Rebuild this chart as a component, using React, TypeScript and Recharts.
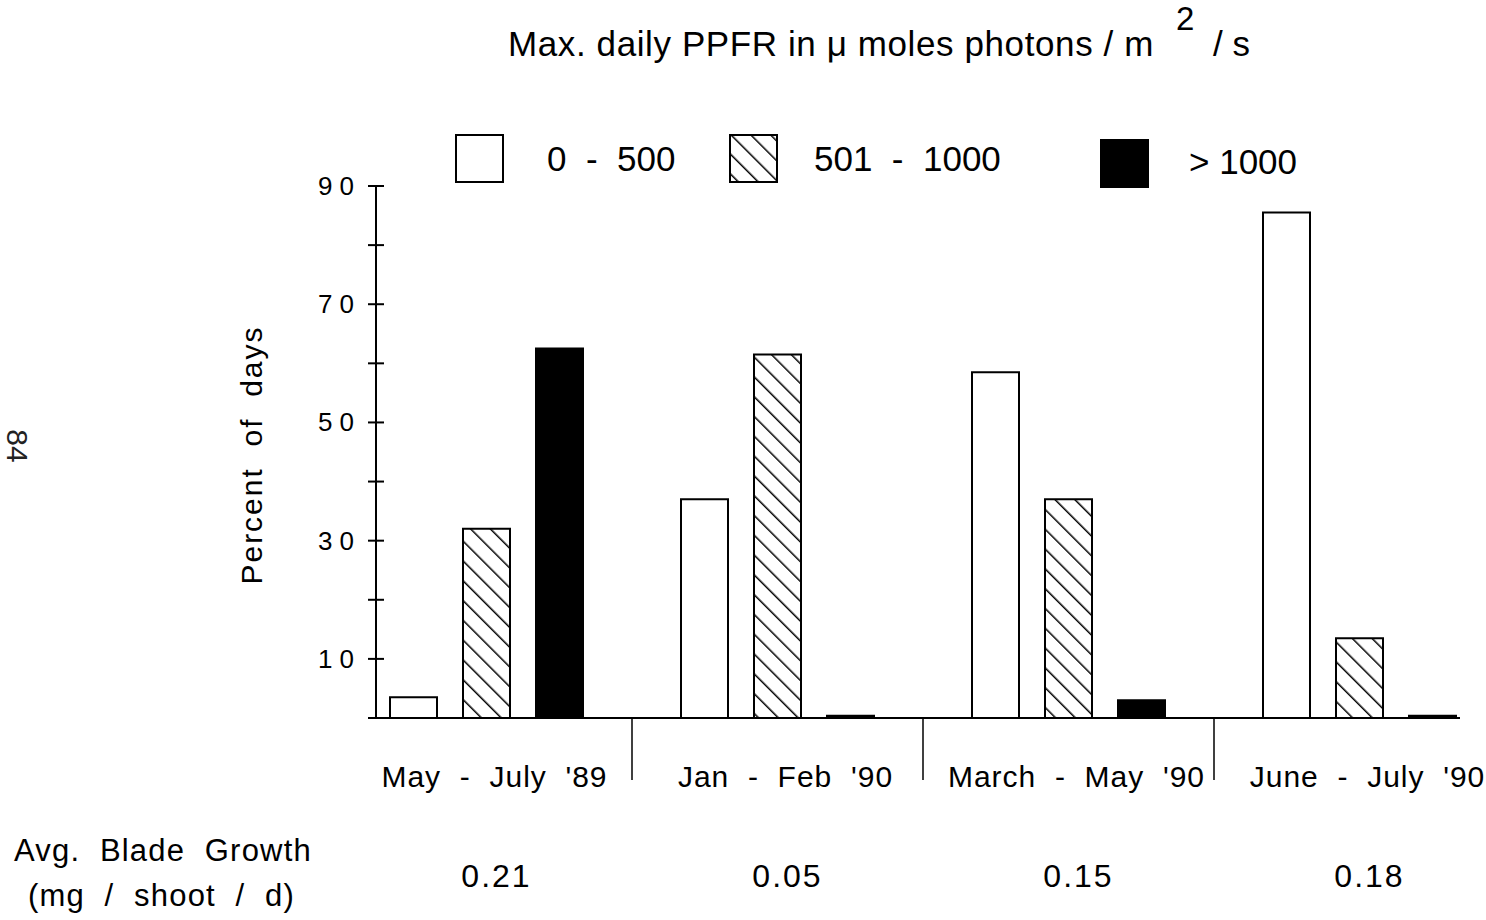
import { BarChart, Bar, XAxis, YAxis } from 'recharts';

// Values
const periods = ["May  -  July  '89", "Jan  -  Feb  '90", "March  -  May  '90", "June  -  July  '90"];
const low = [3.5, 37, 58.5, 85.5];
const mid = [32, 61.5, 37, 13.5];
const high = [62.5, 0.4, 3, 0.4];
const growth = ['0.21', '0.05', '0.15', '0.18'];
const yTicks = [0, 10, 20, 30, 40, 50, 60, 70, 80, 90];
const yLabelled = [10, 30, 50, 70, 90];

const series = [
  { key: 'low', name: '0  -  500', fill: '#ffffff' },
  { key: 'mid', name: '501  -  1000', fill: 'url(#hatch)' },
  { key: 'high', name: '> 1000', fill: '#000000' },
];

const chartData = periods.map((period, i) => ({
  period,
  growth: growth[i],
  low: low[i],
  mid: mid[i],
  high: high[i],
}));

const FONT = '"Liberation Sans", Arial, Helvetica, sans-serif';
const xPadding = { left: -35, right: -45 };

const YTick = ({ x, y, payload }: any) => (
  <g>
    <line x1={x - 8} x2={x + 8} y1={y} y2={y} stroke="#000" strokeWidth={2} />
    {yLabelled.includes(payload.value) && (
      <text x={x - 15} y={y + 9} textAnchor="end" fontSize={26} fontFamily={FONT} letterSpacing={7} fill="#000">
        {payload.value}
      </text>
    )}
  </g>
);

const PeriodTick = ({ x, y, payload, index }: any) => {
  const half = payload?.offset || 145.5;
  return (
    <g>
      {index > 0 && <line x1={x - half} x2={x - half} y1={y} y2={y + 62} stroke="#000" strokeWidth={1.5} />}
      <text x={x + 8} y={y + 69} textAnchor="middle" fontSize={30} letterSpacing={1} fontFamily={FONT} fill="#000" style={{ whiteSpace: 'pre' }}>
        {payload.value}
      </text>
    </g>
  );
};

const GrowthTick = ({ x, y, payload }: any) => (
  <text x={x + 10} y={y + 69} textAnchor="middle" fontSize={32} letterSpacing={2} fontFamily={FONT} fill="#000">
    {payload.value}
  </text>
);

const legendWidths = [274, 371, 240];
const legendGaps = [43, 36, 40];

const LegendRow = () => (
  <div style={{ position: 'absolute', left: 455, top: 129, display: 'flex', fontFamily: FONT, fontSize: 35, whiteSpace: 'pre' }}>
    {series.map((s, i) => (
      <div key={s.key} style={{ width: legendWidths[i], display: 'flex', alignItems: 'center' }}>
        <svg width={49} height={49} style={{ marginTop: i === 2 ? 10 : 0 }}>
          <rect x={1} y={1} width={47} height={47} fill={s.fill} stroke="#000" strokeWidth={2} />
        </svg>
        <span style={{ marginLeft: legendGaps[i], marginTop: i === 2 ? 6 : 0 }}>{s.name}</span>
      </div>
    ))}
  </div>
);

export default function App() {
  return (
    <div style={{ position: 'absolute', left: 0, top: 0, width: 1486, height: 920, background: '#fff', fontFamily: FONT, color: '#000' }}>
      <BarChart
        width={1486}
        height={920}
        data={chartData}
        margin={{ top: 186, right: 26, left: 0, bottom: 0 }}
        barSize={47}
        barGap={26}
      >
        <defs>
          <pattern id="hatch" patternUnits="userSpaceOnUse" width={14} height={14} patternTransform="rotate(-45)">
            <rect width={14} height={14} fill="#fff" />
            <line x1={0} y1={0} x2={0} y2={14} stroke="#000" strokeWidth={3} />
          </pattern>
        </defs>
        <XAxis
          dataKey="period"
          height={100}
          padding={xPadding}
          axisLine={{ stroke: '#000', strokeWidth: 2 }}
          tickLine={false}
          tickSize={0}
          tickMargin={0}
          interval={0}
          tick={<PeriodTick />}
        />
        <XAxis
          xAxisId="growth"
          dataKey="growth"
          height={102}
          padding={xPadding}
          axisLine={false}
          tickLine={false}
          tickSize={0}
          tickMargin={0}
          interval={0}
          tick={<GrowthTick />}
        />
        <YAxis
          width={376}
          domain={[0, 90]}
          ticks={yTicks}
          interval={0}
          axisLine={{ stroke: '#000', strokeWidth: 2 }}
          tickLine={false}
          tickSize={0}
          tickMargin={0}
          tick={<YTick />}
        />
        {series.map((s) => (
          <Bar key={s.key} dataKey={s.key} name={s.name} fill={s.fill} stroke="#000" strokeWidth={2} isAnimationActive={false} />
        ))}
      </BarChart>

      <LegendRow />

      <div style={{ position: 'absolute', left: 508, top: 24, fontSize: 35, letterSpacing: 0.6, whiteSpace: 'pre' }}>
        Max. daily PPFR in μ moles photons / m
      </div>
      <div style={{ position: 'absolute', left: 1176, top: 0, fontSize: 33 }}>2</div>
      <div style={{ position: 'absolute', left: 1213, top: 24, fontSize: 35, whiteSpace: 'pre' }}>/ s</div>

      <div style={{ position: 'absolute', left: 252, top: 455, transform: 'translate(-50%, -50%) rotate(-90deg)', fontSize: 30, letterSpacing: 2, whiteSpace: 'pre' }}>
        Percent  of  days
      </div>

      <div style={{ position: 'absolute', left: 17, top: 446, transform: 'translate(-50%, -50%) rotate(90deg)', fontSize: 30, color: '#222' }}>
        84
      </div>

      <div style={{ position: 'absolute', left: 14, top: 833, fontSize: 31, letterSpacing: 1.2, whiteSpace: 'pre' }}>
        Avg.  Blade  Growth
      </div>
      <div style={{ position: 'absolute', left: 28, top: 878, fontSize: 31, letterSpacing: 1.2, whiteSpace: 'pre' }}>
        (mg  /  shoot  /  d)
      </div>
    </div>
  );
}
